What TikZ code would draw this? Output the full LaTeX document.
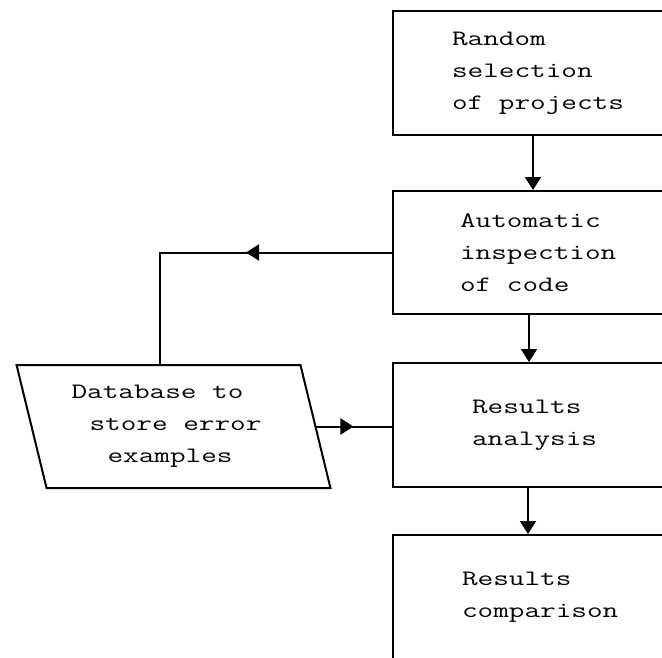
\documentclass[tikz,border=0pt]{standalone}
\usepackage{fontspec}
\setmonofont[FakeStretch=1.38]{Latin Modern Mono}
\newcommand\csp{\phantom{x}}
\usetikzlibrary{arrows.meta,shapes.geometric,decorations.markings}
\tikzset{
  ln/.style={line width=2pt, draw=black},
  txtfont/.style={font=\fontsize{22}{32}\selectfont\ttfamily},
  box/.style={ln, rectangle, txtfont, align=left, inner ysep=0pt, minimum width=307pt, minimum height=124pt},
  dbshape/.style={ln, trapezium, trapezium left angle=106.3, trapezium right angle=73.7, trapezium stretches=true,
     minimum width=315pt, minimum height=123pt, inner sep=0pt, txtfont, align=left},
  tip/.style={-{Triangle[length=13pt,width=16pt]}},
  midtip/.style={postaction={decorate}, decoration={markings, mark=at position #1 with {\arrow{Triangle[length=13pt,width=16pt]}}}}
}
\begin{document}
\begin{tikzpicture}[x=1pt,y=-1pt]
\useasboundingbox (0,0) rectangle (662,657);
\fill[white] (0,0) rectangle (662,657);
\clip (0,0) rectangle (662,657);

\node[box, inner xsep=59pt, text width=189pt] (b1) at (546.5,73) {Random\\selection\\of\csp projects};
\node[box, inner xsep=67pt, text width=173pt, minimum height=123pt] (b2) at (546.5,252.5) {Automatic\\inspection\\of\csp code};
\node[box, inner xsep=79pt, text width=149pt] (b3) at (546.5,425) {Results\\analysis};
\node[box, inner xsep=69pt, text width=169pt] (b4) at (546.5,597) {Results\\comparison};

\node[dbshape] (db) at (173.5,426.5) {Database\csp to\\\hspace*{18pt}store\csp error\hspace*{14pt}\mbox{}\\\hspace*{36pt}examples};

\draw[ln, tip] ([xshift=-13.5pt]b1.south) -- ([xshift=-13.5pt]b1.south |- b2.north);
\draw[ln, tip] ([xshift=-17.5pt]b2.south) -- ([xshift=-17.5pt]b2.south |- b3.north);
\draw[ln, tip] ([xshift=-18.5pt]b3.south) -- ([xshift=-18.5pt]b3.south |- b4.north);

\draw[ln, midtip=146pt] (b2.west) -| ([xshift=-13.5pt]db.north);
\draw[ln, midtip=37pt] (db.east) -- (db.east -| b3.west);
\end{tikzpicture}
\end{document}
